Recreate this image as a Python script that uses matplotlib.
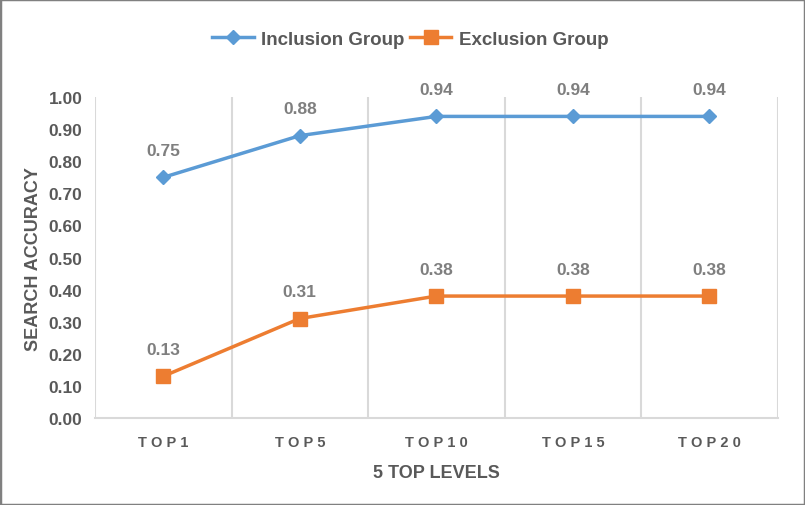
import matplotlib.pyplot as plt
from matplotlib.patches import Rectangle

# data
levels = ['TOP1', 'TOP5', 'TOP10', 'TOP15', 'TOP20']
inclusion = [0.75, 0.88, 0.94, 0.94, 0.94]
exclusion = [0.13, 0.31, 0.38, 0.38, 0.38]

plt.rcParams['font.family'] = ['Liberation Sans', 'DejaVu Sans']
text_col = '#595959'
label_col = '#7f7f7f'

fig = plt.figure(figsize=(8.05, 5.06), dpi=100)
ax = fig.add_axes([0.118, 0.172, 0.848, 0.634])

x = range(len(levels))
ax.plot(x, inclusion, color='#5B9BD5', lw=2.5, marker='D', ms=7.5, label='Inclusion Group')
ax.plot(x, exclusion, color='#ED7D31', lw=2.5, marker='s', ms=9.5, label='Exclusion Group')

# data labels above each point
for xi, v in zip(x, inclusion):
    ax.annotate(f'{v:.2f}', (xi, v), xytext=(0, 14), textcoords='offset points',
                ha='center', va='bottom', fontsize=12.5, fontweight='bold', color=label_col)
for xi, v in zip(x, exclusion):
    ax.annotate(f'{v:.2f}', (xi, v), xytext=(0, 14), textcoords='offset points',
                ha='center', va='bottom', fontsize=12.5, fontweight='bold', color=label_col)

ax.set_xlim(-0.5, len(levels) - 0.5)
ax.set_ylim(0, 1.0)
ax.set_yticks([i / 10 for i in range(11)])
ax.set_yticklabels([f'{i / 10:.2f}' for i in range(11)], fontsize=12.5,
                   fontweight='bold', color=text_col)
ax.set_xticks(list(x))
# spaced-out letters like the original
spaced = ['\u2009\u200a'.join(lv) for lv in levels]
ax.set_xticklabels(spaced, fontsize=10.5, fontweight='bold', color=text_col)

# vertical gridlines between categories
for b in range(len(levels) + 1):
    ax.axvline(b - 0.5, color='#D9D9D9', lw=1.5, zorder=0)

for s in ['top', 'right', 'left']:
    ax.spines[s].set_visible(False)
ax.spines['bottom'].set_color('#D9D9D9')
ax.spines['bottom'].set_linewidth(1.5)
ax.tick_params(length=0)
ax.tick_params(axis='x', pad=12)
ax.tick_params(axis='y', pad=9)

ax.set_xlabel('5 TOP LEVELS', fontsize=13, fontweight='bold', color=text_col, labelpad=11)
ax.set_ylabel('SEARCH ACCURACY', fontsize=13, fontweight='bold', color=text_col, labelpad=5)

leg = fig.legend(loc='center', bbox_to_anchor=(0.51, 0.92), ncol=2, frameon=False,
                 fontsize=13.5, handlelength=2.2, columnspacing=0.3, handletextpad=0.4)
for t in leg.get_texts():
    t.set_color(text_col)
    t.set_fontweight('bold')

# grey frame around the figure
fig.patches.append(Rectangle((0, 0), 1, 1, transform=fig.transFigure, fill=False,
                             edgecolor='#808080', lw=2.5))

fig.savefig('out.png', dpi=100)
